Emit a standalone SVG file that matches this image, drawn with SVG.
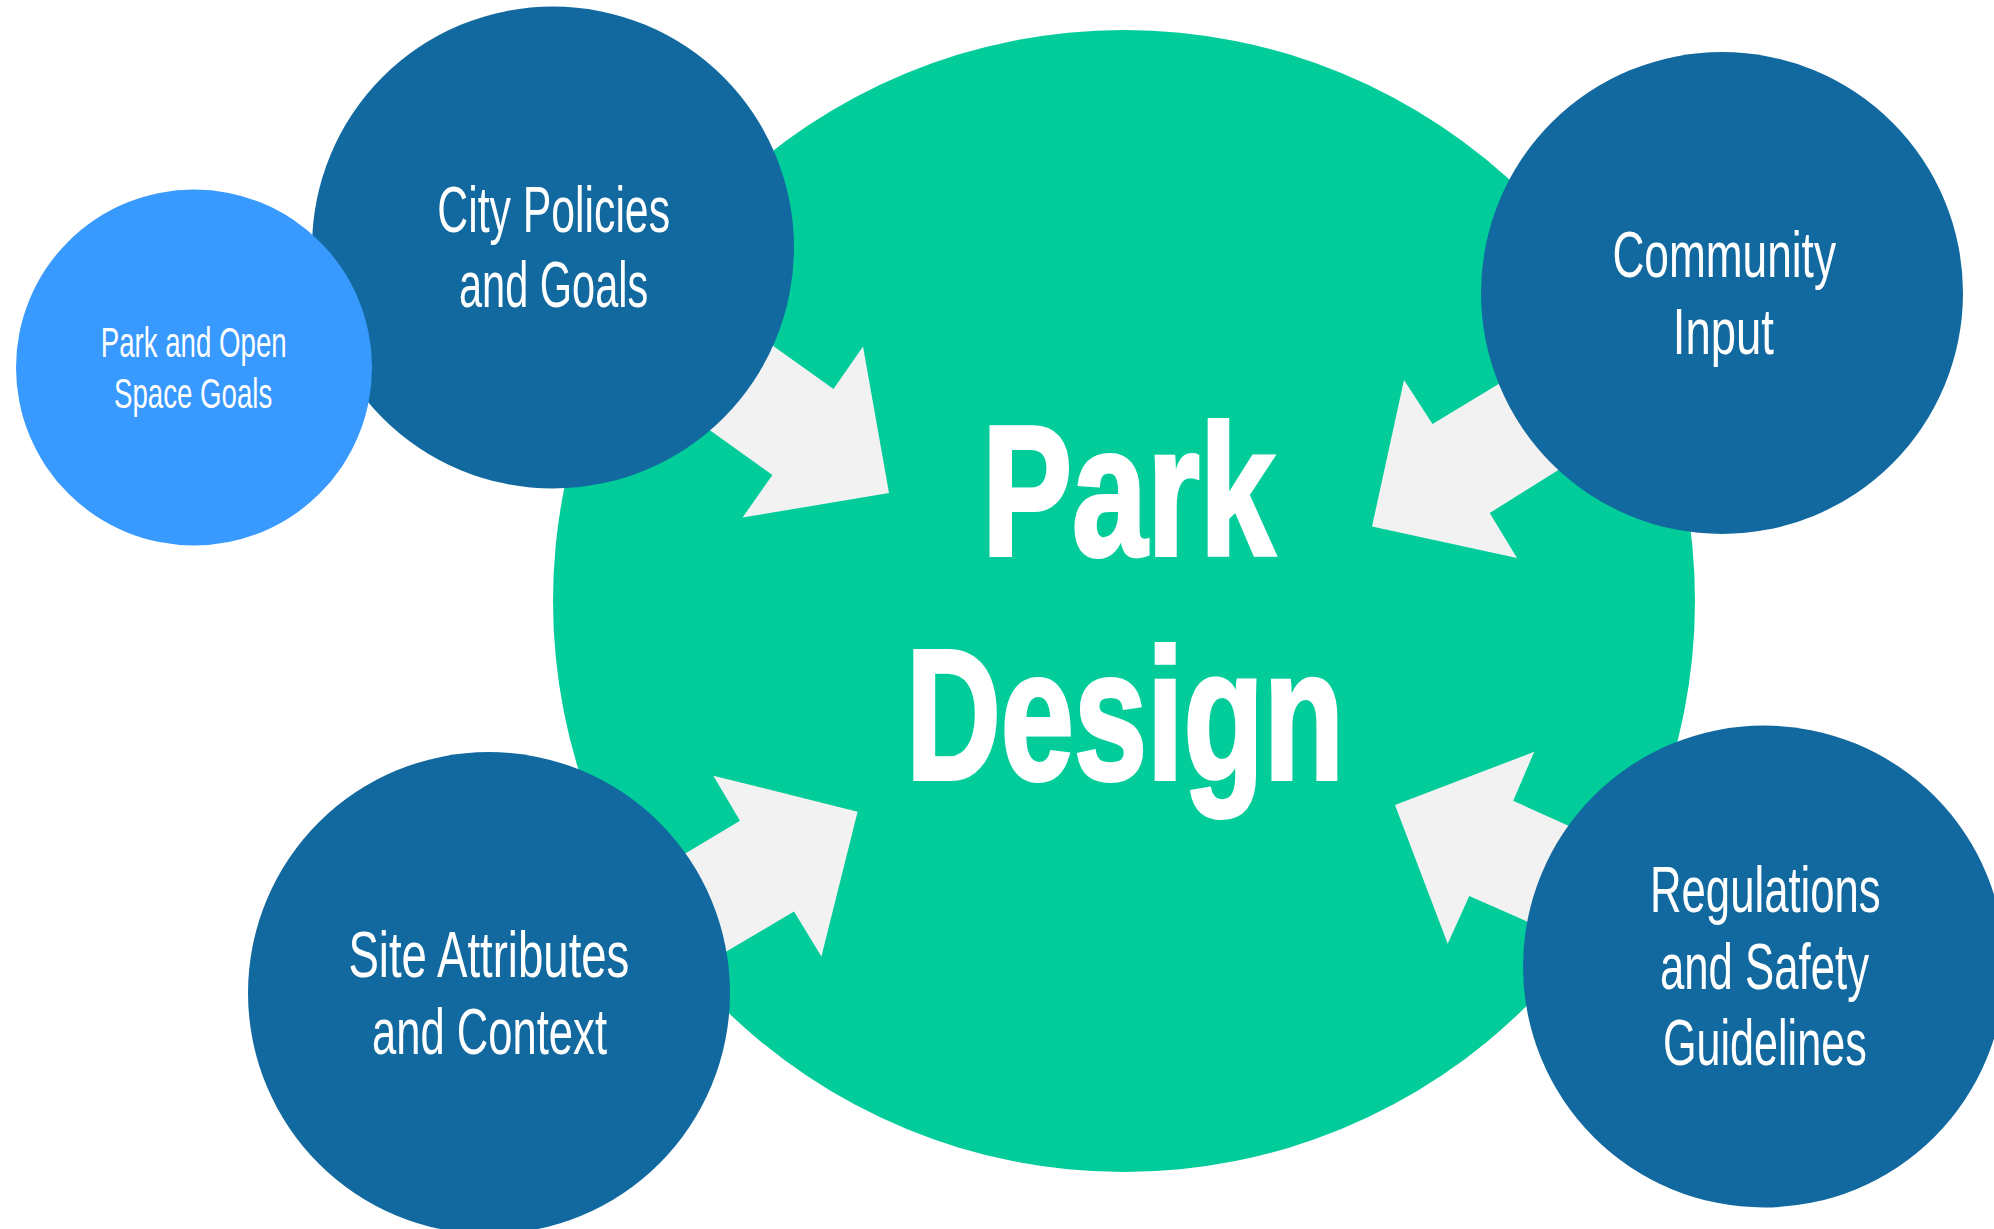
<svg xmlns="http://www.w3.org/2000/svg" width="1994" height="1229" viewBox="0 0 1994 1229">
  <style>
    .hub { fill: #02CC9A; }
    .dark { fill: #12699F; }
    .light { fill: #3899FE; }
    .arrow { fill: #F2F2F2; }
    .lbl { font-family: "Liberation Sans", Arial, sans-serif; fill: #FFFFFF; font-size: 64px; }
    .lbl-s { font-family: "Liberation Sans", Arial, sans-serif; fill: #FFFFFF; font-size: 42px; }
    .hub-lbl { font-family: "Liberation Sans", Arial, sans-serif; fill: #FFFFFF; stroke: #FFFFFF; stroke-width: 4; stroke-linejoin: miter; font-size: 185px; font-weight: bold; }
  </style>
  <rect width="1994" height="1229" fill="#FFFFFF"/>

  <g id="park-design">
    <circle class="hub" cx="1124" cy="601" r="571"/>
    <text class="hub-lbl" x="982" y="555" textLength="293" lengthAdjust="spacingAndGlyphs">Park</text>
    <text class="hub-lbl" x="906" y="779" textLength="438" lengthAdjust="spacingAndGlyphs">Design</text>
  </g>

  <g id="connectors">
    <polygon class="arrow" points="692,288 833.5,389 863,346.5 889,493 742.5,517.6 772.4,475 630,373"/>
    <polygon class="arrow" points="1584.5,332 1432.5,424 1404,380 1372,526.6 1517,558 1489.7,513 1641.5,418"/>
    <polygon class="arrow" points="601,904 740,820.7 713.3,775.7 857.6,811.7 821.4,956.6 794,911.6 641,1002"/>
    <polygon class="arrow" points="1659,866.4 1513.2,800.8 1534.2,751.8 1395,805 1447.7,943.7 1469.3,895.9 1619,962.4"/>
  </g>

  <g id="city-policies">
    <circle class="dark" cx="553" cy="247.5" r="241"/>
    <text class="lbl" x="437.3" y="232.3" textLength="232.7" lengthAdjust="spacingAndGlyphs">City Policies</text>
    <text class="lbl" x="459" y="307.3" textLength="189.3" lengthAdjust="spacingAndGlyphs">and Goals</text>
  </g>

  <g id="park-open-space">
    <circle class="light" cx="194" cy="367.5" r="178"/>
    <text class="lbl-s" x="100.7" y="356.7" textLength="186" lengthAdjust="spacingAndGlyphs">Park and Open</text>
    <text class="lbl-s" x="114" y="407.7" textLength="158.3" lengthAdjust="spacingAndGlyphs">Space Goals</text>
  </g>

  <g id="community-input">
    <circle class="dark" cx="1722" cy="293" r="241"/>
    <text class="lbl" x="1612.4" y="277" textLength="223.6" lengthAdjust="spacingAndGlyphs">Community</text>
    <text class="lbl" x="1672.8" y="354.3" textLength="101.2" lengthAdjust="spacingAndGlyphs">Input</text>
  </g>

  <g id="site-attributes">
    <circle class="dark" cx="489" cy="993" r="241"/>
    <text class="lbl" x="348.4" y="977" textLength="281" lengthAdjust="spacingAndGlyphs">Site Attributes</text>
    <text class="lbl" x="372" y="1053.7" textLength="235" lengthAdjust="spacingAndGlyphs">and Context</text>
  </g>

  <g id="regulations">
    <circle class="dark" cx="1764" cy="966.5" r="241"/>
    <text class="lbl" x="1650" y="912.4" textLength="230.7" lengthAdjust="spacingAndGlyphs">Regulations</text>
    <text class="lbl" x="1660" y="988.7" textLength="209" lengthAdjust="spacingAndGlyphs">and Safety</text>
    <text class="lbl" x="1663" y="1065" textLength="203.7" lengthAdjust="spacingAndGlyphs">Guidelines</text>
  </g>
</svg>
